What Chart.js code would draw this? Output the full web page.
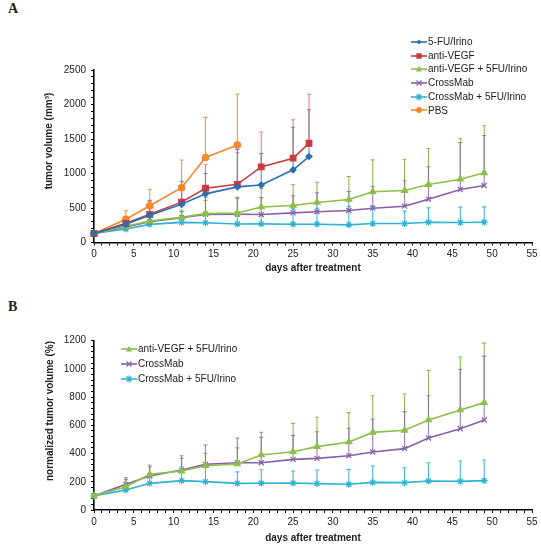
<!DOCTYPE html>
<html>
<head>
<meta charset="utf-8">
<script src="https://cdn.jsdelivr.net/npm/chart.js@4.4.1/dist/chart.umd.min.js"></script>
<style>
  body { margin: 0; background: #fff; }
  #wrap { position: relative; width: 541px; height: 550px; font-family: "Liberation Sans", Arial, sans-serif; color: #222; }
  canvas { position: absolute; left: 0; }
  .panel { position: absolute; left: 8px; font-family: "Liberation Serif", "Times New Roman", serif; font-weight: bold; font-size: 14px; }
  .ytitle { position: absolute; font-weight: bold; font-size: 10px; white-space: nowrap; transform: translate(-50%, -50%) rotate(-90deg); }
  .legend { position: absolute; font-size: 10px; }
  .legend div { display: flex; align-items: center; white-space: nowrap; }
  .legend svg { margin-right: 1px; }
</style>
</head>
<body>
<div id="wrap">
  <div class="panel" style="top:1px">A</div>
  <div class="panel" style="top:299px">B</div>
  <canvas id="chart-a" width="541" height="280" style="top:0"></canvas>
  <canvas id="chart-b" width="541" height="270" style="top:280px"></canvas>
  <div class="ytitle" style="left:48px; top:141px">tumor volume (mm³)</div>
  <div class="ytitle" style="left:49px; top:411px">normalized tumor volume (%)</div>
  <div class="legend" id="legend-a" style="left:411px; top:35px; line-height:13.7px"></div>
  <div class="legend" id="legend-b" style="left:121px; top:342px; line-height:14.8px"></div>
</div>
<script>
// days of measurement
const daysShort = [0, 4, 7, 11, 14, 18, 21, 25, 27];
const daysPBS = [0, 4, 7, 11, 14, 18];
const daysLong = [0, 4, 7, 11, 14, 18, 21, 25, 28, 32, 35, 39, 42, 46, 49];

// A: tumor volume (mm3), mean and upper SD
const fuIrino = [130, 263, 394, 553, 705, 806, 833, 1053, 1246];
const fuIrinoSd = [40, 77, 216, 327, 295, 544, 457, 618, 677];
const antiVegf = [130, 278, 408, 585, 787, 843, 1095, 1222, 1439];
const antiVegfSd = [40, 92, 192, 302, 340, 458, 506, 556, 710];
const pbs = [130, 336, 532, 795, 1232, 1412];
const pbsSd = [40, 125, 239, 400, 582, 740];
const antiVegfFu = [130, 235, 310, 365, 418, 427, 515, 536, 580, 623, 735, 753, 840, 917, 1010];
const antiVegfFuSd = [30, 65, 120, 105, 192, 213, 270, 304, 294, 333, 463, 454, 522, 594, 681];
const crossMab = [130, 225, 300, 360, 408, 410, 405, 430, 445, 464, 497, 526, 627, 768, 826];
const crossMabSd = [30, 65, 120, 90, 247, 245, 245, 247, 275, 275, 319, 368, 470, 681, 724];
const crossMabFu = [130, 196, 263, 292, 287, 268, 270, 265, 265, 256, 275, 275, 294, 290, 294];
const crossMabFuSd = [25, 34, 67, 154, 113, 112, 130, 223, 232, 266, 257, 179, 208, 222, 223];

// B: normalized tumor volume (%), mean and upper SD
const normAntiVegfFu = [100, 165, 253, 276, 314, 326, 390, 413, 449, 482, 550, 565, 638, 709, 761];
const normAntiVegfFuSd = [15, 50, 66, 90, 88, 114, 160, 201, 208, 208, 260, 257, 352, 375, 422];
const normCrossMab = [100, 182, 241, 283, 324, 335, 335, 359, 366, 385, 411, 435, 510, 576, 638];
const normCrossMabSd = [15, 47, 66, 102, 137, 175, 180, 170, 189, 194, 232, 262, 300, 421, 453];
const normCrossMabFu = [100, 142, 189, 208, 201, 189, 190, 191, 187, 182, 196, 194, 206, 203, 208];
const normCrossMabFuSd = [10, 38, 61, 99, 113, 81, 95, 85, 96, 106, 116, 106, 129, 144, 146];

const FONT = "'Liberation Sans', Arial, sans-serif";

const styles = {
  "5-FU/Irino":             { color: "#2a6fb0", err: "rgba(42,111,176,0.8)",  shape: "rectRot",  r: 3 },
  "anti-VEGF":              { color: "#c9393d", err: "rgba(220,90,95,0.75)",  shape: "rect",     r: 4 },
  "anti-VEGF + 5FU/Irino":  { color: "#8cbf4a", err: "rgba(130,180,65,0.9)",  shape: "triangle", r: 3.5 },
  "CrossMab":               { color: "#8660a8", err: "rgba(134,96,168,0.8)",  shape: "crossRot", r: 3.5 },
  "CrossMab + 5FU/Irino":   { color: "#2db3d1", err: "rgba(40,170,200,0.85)", shape: "star",     r: 3.5 },
  "PBS":                    { color: "#f5882b", err: "rgba(245,136,43,0.9)",  shape: "circle",   r: 3.2 },
};

function series(label, days, values, sd) {
  const s = styles[label];
  return {
    label,
    data: days.map((d, i) => ({ x: d, y: values[i] })),
    err: sd,
    errColor: s.err,
    borderColor: s.color,
    backgroundColor: s.color,
    pointStyle: s.shape,
    pointRadius: s.r,
    pointBorderWidth: 1.2,
    borderWidth: 1.6,
    tension: 0,
    clip: false,
  };
}

// upper error bars, drawn through the chart's scales
const errorBars = {
  id: "errorBars",
  beforeDatasetsDraw(chart) {
    const { ctx, scales: { x, y } } = chart;
    chart.data.datasets.forEach(ds => {
      ctx.save();
      ctx.strokeStyle = ds.errColor;
      ctx.lineWidth = 1.1;
      ds.data.forEach((p, i) => {
        const px = x.getPixelForValue(p.x);
        const py = y.getPixelForValue(p.y);
        const pt = y.getPixelForValue(p.y + ds.err[i]);
        ctx.beginPath();
        ctx.moveTo(px, py); ctx.lineTo(px, pt);
        ctx.moveTo(px - 2, pt); ctx.lineTo(px + 2, pt);
        ctx.stroke();
      });
      ctx.restore();
    });
  }
};

function makeChart(id, datasets, yMax, yMinor, yMajor, canvasH, areaTop, areaBottom) {
  const ctx = document.getElementById(id).getContext("2d");
  return new Chart(ctx, {
    type: "line",
    data: { datasets },
    plugins: [errorBars],
    options: {
      responsive: false,
      animation: false,
      layout: { padding: { left: 0, right: 9, top: areaTop, bottom: 0 } },
      plugins: { legend: { display: false }, tooltip: { enabled: false } },
      scales: {
        x: {
          type: "linear", min: 0, max: 55,
          border: { color: "#000", width: 1.6 },
          grid: { drawOnChartArea: false, drawTicks: true, tickLength: 3, color: "#000", lineWidth: 1 },
          ticks: {
            stepSize: 1, autoSkip: false, maxRotation: 0, padding: 3,
            color: "#222", font: { family: FONT, size: 10 },
            callback: v => (v % 5 === 0 ? v : ""),
          },
          title: {
            display: true, text: "days after treatment", color: "#222",
            font: { family: FONT, size: 10, weight: "bold" }, padding: { top: 0, bottom: 6 },
          },
          afterFit: s => { s.height = canvasH - areaBottom; },
        },
        y: {
          min: 0, max: yMax,
          border: { color: "#000", width: 1.6 },
          grid: { drawOnChartArea: false, drawTicks: true, tickLength: 3, color: "#000", lineWidth: 1 },
          ticks: {
            stepSize: yMinor, autoSkip: false, padding: 5,
            color: "#222", font: { family: FONT, size: 10 },
            callback: v => (v % yMajor === 0 ? v : ""),
          },
          afterFit: s => { s.width = 94; },
        },
      },
    },
  });
}

makeChart("chart-a", [
  series("5-FU/Irino", daysShort, fuIrino, fuIrinoSd),
  series("anti-VEGF", daysShort, antiVegf, antiVegfSd),
  series("anti-VEGF + 5FU/Irino", daysLong, antiVegfFu, antiVegfFuSd),
  series("CrossMab", daysLong, crossMab, crossMabSd),
  series("CrossMab + 5FU/Irino", daysLong, crossMabFu, crossMabFuSd),
  series("PBS", daysPBS, pbs, pbsSd),
], 2500, 100, 500, 280, 70, 242.5);

makeChart("chart-b", [
  series("anti-VEGF + 5FU/Irino", daysLong, normAntiVegfFu, normAntiVegfFuSd),
  series("CrossMab", daysLong, normCrossMab, normCrossMabSd),
  series("CrossMab + 5FU/Irino", daysLong, normCrossMabFu, normCrossMabFuSd),
], 1200, 40, 200, 270, 60.7, 230);

// HTML legends with line + marker icons
function icon(label) {
  const s = styles[label];
  const c = s.color;
  let m = "";
  switch (s.shape) {
    case "rectRot": m = `<polygon points="8,1.5 10.5,4 8,6.5 5.5,4" fill="${c}"/>`; break;
    case "rect": m = `<rect x="5.3" y="1.3" width="5.4" height="5.4" fill="${c}"/>`; break;
    case "triangle": m = `<polygon points="8,0.8 11,6.5 5,6.5" fill="${c}"/>`; break;
    case "crossRot": m = `<path d="M5.5,1.5 L10.5,6.5 M10.5,1.5 L5.5,6.5" stroke="${c}" stroke-width="1.2"/>`; break;
    case "star": m = `<path d="M5.5,1.5 L10.5,6.5 M10.5,1.5 L5.5,6.5 M8,0.5 L8,7.5" stroke="${c}" stroke-width="1.2"/>`; break;
    case "circle": m = `<circle cx="8" cy="4" r="3" fill="${c}"/>`; break;
  }
  return `<svg width="16" height="8"><line x1="0" y1="4" x2="16" y2="4" stroke="${c}" stroke-width="1.6"/>${m}</svg>`;
}

function legend(id, labels) {
  document.getElementById(id).innerHTML =
    labels.map(l => `<div>${icon(l)}<span>${l}</span></div>`).join("");
}

legend("legend-a", ["5-FU/Irino", "anti-VEGF", "anti-VEGF + 5FU/Irino", "CrossMab", "CrossMab + 5FU/Irino", "PBS"]);
legend("legend-b", ["anti-VEGF + 5FU/Irino", "CrossMab", "CrossMab + 5FU/Irino"]);
</script>
</body>
</html>
